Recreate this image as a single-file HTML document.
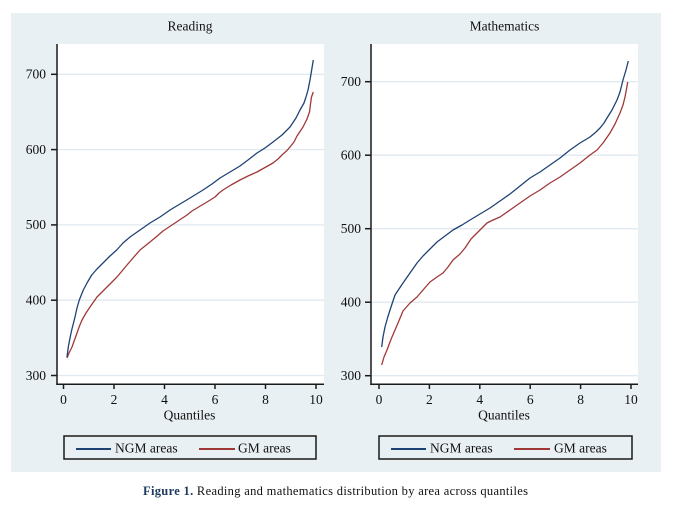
<!DOCTYPE html>
<html><head><meta charset="utf-8"><style>
html,body{margin:0;padding:0;background:#fff;}
svg{display:block;}
text{font-family:"Liberation Serif",serif;fill:#111;}
</style></head><body>
<svg width="673" height="506" viewBox="0 0 673 506" xmlns="http://www.w3.org/2000/svg">
<rect x="0" y="0" width="673" height="506" fill="#fff"/>
<rect x="11" y="13" width="650" height="459" fill="#e9f0f3"/>

<!-- LEFT PANEL -->
<rect x="57" y="44" width="267" height="340" fill="#fff" rx="2"/>
<g stroke="#e1eaf0" stroke-width="1.3">
<line x1="57" y1="74.3" x2="324" y2="74.3"/>
<line x1="57" y1="149.6" x2="324" y2="149.6"/>
<line x1="57" y1="224.9" x2="324" y2="224.9"/>
<line x1="57" y1="300.2" x2="324" y2="300.2"/>
<line x1="57" y1="375.5" x2="324" y2="375.5"/>
</g>
<text x="190" y="30.5" font-size="13.5" text-anchor="middle">Reading</text>
<g stroke="#1a1a1a" stroke-width="1.5" fill="none">
<line x1="57" y1="44" x2="57" y2="385"/>
<line x1="56.3" y1="384.3" x2="324" y2="384.3"/>
<line x1="51" y1="74.3" x2="57" y2="74.3"/>
<line x1="51" y1="149.6" x2="57" y2="149.6"/>
<line x1="51" y1="224.9" x2="57" y2="224.9"/>
<line x1="51" y1="300.2" x2="57" y2="300.2"/>
<line x1="51" y1="375.5" x2="57" y2="375.5"/>
<line x1="63.5" y1="384" x2="63.5" y2="389"/>
<line x1="114" y1="384" x2="114" y2="389"/>
<line x1="164.5" y1="384" x2="164.5" y2="389"/>
<line x1="215" y1="384" x2="215" y2="389"/>
<line x1="265.5" y1="384" x2="265.5" y2="389"/>
<line x1="316" y1="384" x2="316" y2="389"/>
</g>
<g font-size="13.5" text-anchor="end">
<text x="46" y="78.6">700</text>
<text x="46" y="153.9">600</text>
<text x="46" y="229.2">500</text>
<text x="46" y="304.5">400</text>
<text x="46" y="379.8">300</text>
</g>
<g font-size="13.5" text-anchor="middle">
<text x="63.5" y="404">0</text>
<text x="114" y="404">2</text>
<text x="164.5" y="404">4</text>
<text x="215" y="404">6</text>
<text x="265.5" y="404">8</text>
<text x="316" y="404">10</text>
<text x="189.5" y="419.5">Quantiles</text>
</g>
<polyline fill="none" stroke="#a03838" stroke-width="1.3" stroke-linejoin="round" points="67,358 69,353 72,347 74.5,340 77,333 79.5,326 82,320 86,313 90,307 93.5,302 97,297 102,292 107,287 112,282 117,277 122,271 127,265 133,258 140,250 145,246 150,242 156,237 163,231 169,227 175,223 181,219 187,215 192,211 197,208 202,205 207,202 211,199.5 215,197 219,193 223,190 231,185 240,180 248,176 257,172 265,167.5 273,163 278,159 283,154 287,150.5 290,147 294,142 297,136 300,131.5 303,127 305,123 307,119 309.5,112 310.5,104 311.5,97 313.3,92"/>
<polyline fill="none" stroke="#1f4274" stroke-width="1.3" stroke-linejoin="round" points="67,357 68.3,347 70,338 71.7,330 73.5,323 75,317 77,308 79.3,300 83.3,290 87,283 91.7,275 97,269 103,263 110,256 116.7,250 123,243 130,237 140,230 150,223 160,217 170,210 180,204 190,198 203,190 212,184 220,178 230,172 240,166 248,160 257,153 265,148 273,142 282,135 290,127 296,118 300,110 304,103 306,97 308,90 310,80 312,68 313.3,60"/>
<rect x="64" y="436" width="252" height="23" fill="none" stroke="#1a1a1a" stroke-width="1.5"/>
<line x1="76" y1="449" x2="111" y2="449" stroke="#1f4274" stroke-width="2"/>
<text x="115" y="452.5" font-size="13.5">NGM areas</text>
<line x1="199" y1="449" x2="235" y2="449" stroke="#a03838" stroke-width="2"/>
<text x="238" y="452.5" font-size="13.5">GM areas</text>

<!-- RIGHT PANEL -->
<rect x="371" y="44" width="267" height="340" fill="#fff" rx="2"/>
<g stroke="#e1eaf0" stroke-width="1.3">
<line x1="371" y1="81.7" x2="638" y2="81.7"/>
<line x1="371" y1="155.2" x2="638" y2="155.2"/>
<line x1="371" y1="228.7" x2="638" y2="228.7"/>
<line x1="371" y1="302.2" x2="638" y2="302.2"/>
<line x1="371" y1="375.7" x2="638" y2="375.7"/>
</g>
<text x="504.5" y="30.5" font-size="13.5" text-anchor="middle">Mathematics</text>
<g stroke="#1a1a1a" stroke-width="1.5" fill="none">
<line x1="371" y1="44" x2="371" y2="385"/>
<line x1="370.3" y1="384.3" x2="638" y2="384.3"/>
<line x1="365" y1="81.7" x2="371" y2="81.7"/>
<line x1="365" y1="155.2" x2="371" y2="155.2"/>
<line x1="365" y1="228.7" x2="371" y2="228.7"/>
<line x1="365" y1="302.2" x2="371" y2="302.2"/>
<line x1="365" y1="375.7" x2="371" y2="375.7"/>
<line x1="379" y1="384" x2="379" y2="389"/>
<line x1="429.4" y1="384" x2="429.4" y2="389"/>
<line x1="479.8" y1="384" x2="479.8" y2="389"/>
<line x1="530.2" y1="384" x2="530.2" y2="389"/>
<line x1="580.6" y1="384" x2="580.6" y2="389"/>
<line x1="631" y1="384" x2="631" y2="389"/>
</g>
<g font-size="13.5" text-anchor="end">
<text x="361" y="86">700</text>
<text x="361" y="159.5">600</text>
<text x="361" y="233">500</text>
<text x="361" y="306.5">400</text>
<text x="361" y="380">300</text>
</g>
<g font-size="13.5" text-anchor="middle">
<text x="379" y="404">0</text>
<text x="429.4" y="404">2</text>
<text x="479.8" y="404">4</text>
<text x="530.2" y="404">6</text>
<text x="580.6" y="404">8</text>
<text x="631" y="404">10</text>
<text x="504" y="419.5">Quantiles</text>
</g>
<polyline fill="none" stroke="#a03838" stroke-width="1.3" stroke-linejoin="round" points="381.7,365 384,357 387,350 390,342 392,337 395,330 398,323 403,311 410,303 417,297 423,290 430,282 437,277 443,273 448,267 453,260 460,254 465,248 471,239 477,233 482,228 487,223 493,220 500,217 510,210 520,203 530,196 540,190 550,183 560,177 570,170 580,163 590,155 597,150 603,143 610,133 615,124 620,113 623,105 625,97 626.5,89 627.7,82"/>
<polyline fill="none" stroke="#1f4274" stroke-width="1.3" stroke-linejoin="round" points="381.7,347 383,337 385,327 387.5,318 390,310 395,295 399,289 403,283 410,273 417,263 423,256 430,249 437,242 445,236 453,230 462,225 470,220 480,214 490,208 500,201 510,194 520,186 530,178 540,172 550,165 560,158 570,150 580,143 590,137 596,132 600,128 604,123 607,118 612,110 617,100 620,92 623,80 626,70 628.3,61"/>
<rect x="379" y="436" width="253" height="23" fill="none" stroke="#1a1a1a" stroke-width="1.5"/>
<line x1="391" y1="449" x2="426" y2="449" stroke="#1f4274" stroke-width="2"/>
<text x="430" y="452.5" font-size="13.5">NGM areas</text>
<line x1="514" y1="449" x2="550" y2="449" stroke="#a03838" stroke-width="2"/>
<text x="554" y="452.5" font-size="13.5">GM areas</text>

<!-- CAPTION -->
<text x="143" y="495" font-size="12.5" textLength="385" lengthAdjust="spacing"><tspan font-weight="bold" fill="#1f3a60">Figure 1.</tspan> Reading and mathematics distribution by area across quantiles</text>
</svg>
</body></html>
